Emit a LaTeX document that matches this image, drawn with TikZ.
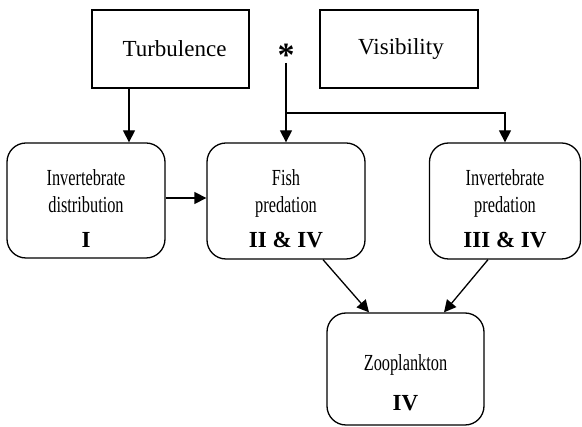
\documentclass[tikz,border=0pt]{standalone}
\usepackage{fontspec}
\setmainfont{Liberation Serif}
\newfontfamily\narrowfont[FakeStretch=0.71]{Liberation Serif}
\usetikzlibrary{positioning,arrows.meta,calc}
\tikzset{
  factor/.style={draw=black, line width=1.3pt, minimum width=157pt, minimum height=78pt,
    inner sep=0pt, font=\fontsize{23}{27}\selectfont},
  process/.style={draw=black, line width=1.3pt, rounded corners=19pt, minimum width=158pt,
    minimum height=116pt, inner sep=0pt, align=center, font=\narrowfont\fontsize{23}{27}\selectfont},
  feed/.style={line width=1.3pt, -{Triangle[length=12pt,width=12pt]}}
}
\newcommand{\stagenum}[1]{{\rmfamily\bfseries\fontsize{23}{23}\selectfont #1}}
\newcommand{\toppad}[1]{\rule{0pt}{#1}}

\begin{document}
\begin{tikzpicture}[x=1pt,y=-1pt]
      \useasboundingbox (0,0) rectangle (582,427);
      % drivers
      \node[factor] (turb) at (170.5,49) {\hspace*{8pt}Turbulence};
      \node[factor, minimum width=158pt] (vis) at (399,49) {\hspace*{4pt}Visibility};
      \node[font=\bfseries\fontsize{34}{34}\selectfont, inner sep=0pt, anchor=base] (star) at (286,67) {*};
      % processes
      \node[process, minimum height=115pt] (dist) at (86,200.5) {\toppad{33pt}Invertebrate\\distribution\\[8pt]\stagenum{I}};
      \node[process] (fish)    at (286,201) {\toppad{31pt}Fish\\predation\\[8pt]\stagenum{II \& IV}};
      \node[process, minimum width=151pt] (invpred) at (505,201) {\toppad{31pt}Invertebrate\\predation\\[8pt]\stagenum{III \& IV}};
      \node[process, minimum width=157pt, minimum height=112pt] (zoo) at (405.5,369) {\toppad{44pt}Zooplankton\\[13pt]\stagenum{IV}};
      % links
      \coordinate (split) at (286,113);
      \draw[feed] ([xshift=-41.5pt]turb.south) -- ([xshift=-41.5pt]turb.south |- dist.north);
      \draw[feed] ([yshift=4pt]star.base) -- (fish.north);
      \draw[feed] (split) -| (invpred.north);
      \draw[feed] ([yshift=2.5pt]dist.east) -- ([yshift=2.5pt]dist.east -| fish.west);
      \draw[feed] ([xshift=37pt]fish.south) -- ([xshift=-36.5pt]zoo.north);
      \draw[feed] ([xshift=-17pt]invpred.south) -- ([xshift=38.5pt]zoo.north);
\end{tikzpicture}
\end{document}
